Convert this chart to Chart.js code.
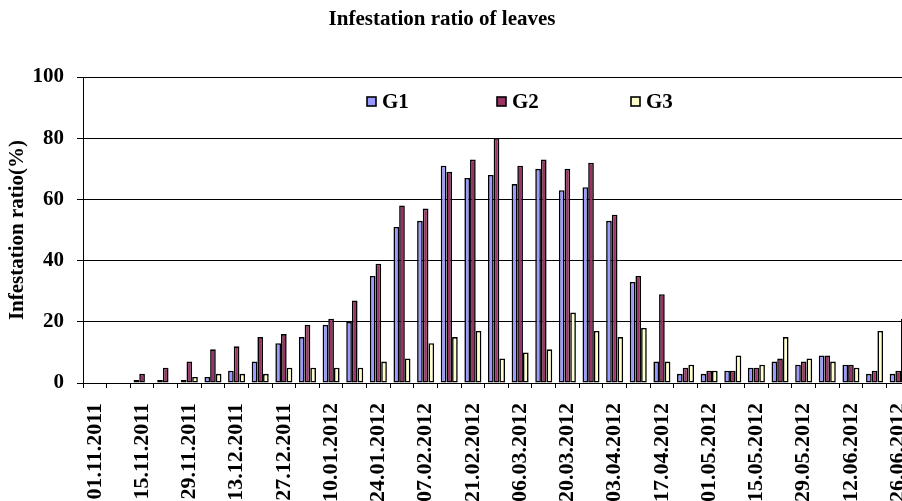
<!DOCTYPE html>
<html>
<head>
<meta charset="utf-8">
<script src="https://cdn.jsdelivr.net/npm/chart.js@4.4.1/dist/chart.umd.min.js"></script>
<style>
  html, body { margin: 0; padding: 0; background: #fff; overflow: hidden; }
  #wrap { width: 930px; height: 501px; position: relative; }
  canvas { display: block; }
</style>
</head>
<body>
<div id="wrap"><canvas id="c" width="930" height="501" style="width:930px;height:501px"></canvas></div>
<script>
const chartTitle = "Infestation ratio of leaves";
const yAxisTitle = "Infestation ratio(%)";
const categories = [
  "01.11.2011","08.11.2011","15.11.2011","22.11.2011","29.11.2011","06.12.2011",
  "13.12.2011","20.12.2011","27.12.2011","03.01.2012","10.01.2012","17.01.2012",
  "24.01.2012","31.01.2012","07.02.2012","14.02.2012","21.02.2012","28.02.2012",
  "06.03.2012","13.03.2012","20.03.2012","27.03.2012","03.04.2012","10.04.2012",
  "17.04.2012","24.04.2012","01.05.2012","08.05.2012","15.05.2012","22.05.2012",
  "29.05.2012","05.06.2012","12.06.2012","19.06.2012","26.06.2012"
];
const seriesNames = ["G1", "G2", "G3"];
const g1 = [0,0,1,1,1,2,4,7,13,15,19,20,35,51,53,71,67,68,65,70,63,64,53,33,7,3,3,4,5,7,6,9,6,3,3];
const g2 = [0,0,3,5,7,11,12,15,16,19,21,27,39,58,57,69,73,80,71,73,70,72,55,35,29,5,4,4,5,8,7,9,6,4,4];
const g3 = [0,0,0,0,2,3,3,3,5,5,5,5,7,8,13,15,17,8,10,11,23,17,15,18,7,6,4,9,6,15,8,7,5,17,21];
const yTicks = [0, 20, 40, 60, 80, 100];

const FONT = "'Liberation Serif', 'Times New Roman', serif";

const overlayPlugin = {
  id: 'overlay',
  afterDraw(chart) {
    const ctx = chart.ctx;
    ctx.save();
    // title
    ctx.fillStyle = '#000';
    ctx.font = "bold 21px " + FONT;
    ctx.textAlign = 'center';
    ctx.textBaseline = 'middle';
    ctx.fillText(chartTitle, 442, 20);
    // legend inside plot
    const xs = [367, 497, 631];
    const y = 102;
    chart.data.datasets.forEach((ds, i) => {
      ctx.fillStyle = ds.backgroundColor;
      ctx.fillRect(xs[i], y - 5, 9, 9);
      ctx.strokeStyle = '#000';
      ctx.lineWidth = 1.6;
      ctx.strokeRect(xs[i], y - 5, 9, 9);
      ctx.fillStyle = '#000';
      ctx.font = "bold 21px " + FONT;
      ctx.textAlign = 'left';
      ctx.textBaseline = 'middle';
      ctx.fillText(ds.label, xs[i] + 15, y + 1);
    });
    ctx.restore();
  }
};

new Chart(document.getElementById('c'), {
  type: 'bar',
  data: {
    labels: categories,
    datasets: [
      { label: seriesNames[0], data: g1, backgroundColor: '#9999FF' },
      { label: seriesNames[1], data: g2, backgroundColor: '#993366' },
      { label: seriesNames[2], data: g3, backgroundColor: '#FFFFCC' }
    ].map(d => Object.assign(d, { borderColor: '#000', borderWidth: 1.6, borderSkipped: false,
                                   categoryPercentage: 0.72, barPercentage: 1.0 }))
  },
  options: {
    responsive: false,
    animation: false,
    devicePixelRatio: 1,
    layout: { padding: { top: 77, right: 20, left: 0, bottom: 0 } },
    plugins: {
      legend: { display: false },
      title: { display: false },
      tooltip: { enabled: false }
    },
    scales: {
      x: {
        offset: true,
        afterFit(scale) { scale.height = 118; scale.paddingLeft = 0; scale.paddingRight = 0; },
        grid: { offset: true, drawOnChartArea: false, drawTicks: true, tickLength: 5, color: '#000', lineWidth: 1 },
        border: { display: true, color: '#000', width: 1 },
        ticks: {
          autoSkip: false,
          minRotation: 90, maxRotation: 90,
          padding: 15,
          color: '#000',
          font: { family: FONT, size: 22, weight: 'bold' },
          callback(v, i) { return i % 2 === 0 ? categories[i] : ''; }
        }
      },
      y: {
        min: 0, max: 100,
        afterFit(scale) { scale.width = 83; scale.paddingTop = 0; scale.paddingBottom = 0; },
        afterBuildTicks(scale) { scale.ticks = yTicks.map(v => ({ value: v })); },
        grid: { color: '#000', lineWidth: 1, drawTicks: true, tickLength: 6 },
        border: { display: true, color: '#000', width: 1 },
        ticks: {
          padding: 13,
          color: '#000',
          font: { family: FONT, size: 21, weight: 'bold' }
        },
        title: {
          display: true,
          text: yAxisTitle,
          color: '#000',
          font: { family: FONT, size: 21, weight: 'bold' },
          padding: { top: 5, bottom: 0 }
        }
      }
    }
  },
  plugins: [overlayPlugin]
});
</script>
</body>
</html>
